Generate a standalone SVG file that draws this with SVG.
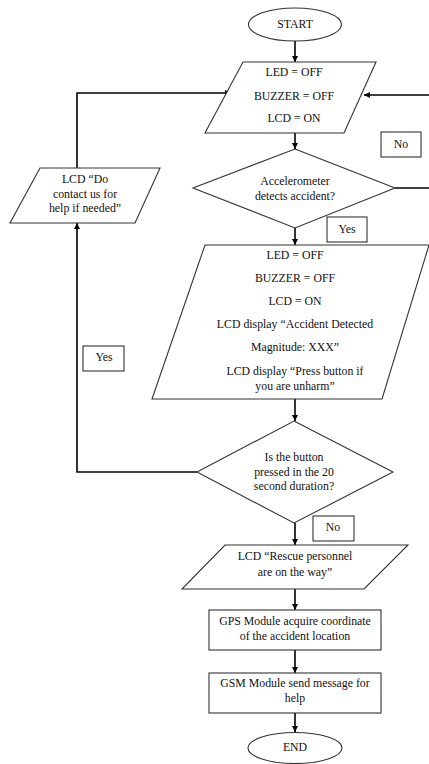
<svg xmlns="http://www.w3.org/2000/svg" width="429" height="764" viewBox="0 0 429 764">
<style>
.s{fill:#fff;stroke:#333;stroke-width:1.1}
.l{fill:#fff;stroke:#333;stroke-width:1.1}
.c{fill:none;stroke:#000;stroke-width:1.6}
text{font-family:"Liberation Serif","Times New Roman",serif;font-size:11.8px;fill:#111;text-anchor:middle;dominant-baseline:middle}
</style>
<defs>
<marker id="ah" viewBox="0 0 8 8" refX="8" refY="4" markerWidth="6" markerHeight="6" orient="auto" markerUnits="userSpaceOnUse">
<path d="M0,0 L8,4 L0,8 z" fill="#000"/>
</marker>
</defs>
<rect width="429" height="764" fill="#fff"/>
<g id="connectors">
<line class="c" x1="295" y1="41" x2="295" y2="62" marker-end="url(#ah)"/>
<line class="c" x1="295" y1="133" x2="295" y2="149" marker-end="url(#ah)"/>
<polyline class="c" points="395,188 429,188"/>
<line class="c" x1="429" y1="95" x2="364" y2="95" marker-end="url(#ah)"/>
<line class="c" x1="295" y1="228" x2="295" y2="245" marker-end="url(#ah)"/>
<line class="c" x1="295" y1="399" x2="295" y2="421" marker-end="url(#ah)"/>
<polyline class="c" points="197,472 77,472 77,223" marker-end="url(#ah)"/>
<polyline class="c" points="77,168 77,93 231,93" marker-end="url(#ah)"/>
<line class="c" x1="295" y1="523" x2="295" y2="545" marker-end="url(#ah)"/>
<line class="c" x1="295" y1="589" x2="295" y2="610" marker-end="url(#ah)"/>
<line class="c" x1="295" y1="650" x2="295" y2="673" marker-end="url(#ah)"/>
<line class="c" x1="295" y1="713" x2="295" y2="732" marker-end="url(#ah)"/>
</g>
<g id="start">
<ellipse class="s" cx="295" cy="24.5" rx="46.5" ry="16.5"/>
<text x="295" y="25">START</text>
</g>
<g id="init">
<polygon class="s" points="243,62 376,62 344,133 205,133"/>
<text x="294" y="73">LED = OFF</text>
<text x="294" y="97">BUZZER = OFF</text>
<text x="294" y="119">LCD = ON</text>
</g>
<g id="no1">
<rect class="l" x="381" y="132" width="40" height="25"/>
<text x="401" y="145">No</text>
</g>
<g id="accel">
<polygon class="s" points="295,149 395,188 295,228 193,188"/>
<text x="295" y="182">Accelerometer</text>
<text x="295" y="197">detects accident?</text>
</g>
<g id="yes1">
<rect class="l" x="327" y="217" width="40" height="25"/>
<text x="347" y="230">Yes</text>
</g>
<g id="detected">
<polygon class="s" points="205,245 429,245 382,399 152,399"/>
<text x="295" y="256">LED = OFF</text>
<text x="295" y="279">BUZZER = OFF</text>
<text x="295" y="302">LCD = ON</text>
<text x="295" y="325">LCD display “Accident Detected</text>
<text x="295" y="348">Magnitude: XXX”</text>
<text x="295" y="372">LCD display “Press button if</text>
<text x="295" y="387">you are unharm”</text>
</g>
<g id="button">
<polygon class="s" points="294,421 393,472 294,523 197,472"/>
<text x="294" y="458">Is the button</text>
<text x="294" y="473">pressed in the 20</text>
<text x="294" y="487">second duration?</text>
</g>
<g id="yes2">
<rect class="l" x="83" y="346" width="41" height="25"/>
<text x="104" y="358">Yes</text>
</g>
<g id="contact">
<polygon class="s" points="40,168 160,168 135,223 10,223"/>
<text x="85" y="180">LCD “Do</text>
<text x="85" y="195">contact us for</text>
<text x="85" y="209">help if needed”</text>
</g>
<g id="no2">
<rect class="l" x="313" y="516" width="41" height="25"/>
<text x="333" y="528">No</text>
</g>
<g id="rescue">
<polygon class="s" points="225,545 408,545 364,589 182,589"/>
<text x="295" y="557">LCD “Rescue personnel</text>
<text x="295" y="573">are on the way”</text>
</g>
<g id="gps">
<rect class="s" x="209" y="610" width="172" height="40"/>
<text x="295" y="622">GPS Module acquire coordinate</text>
<text x="295" y="637">of the accident location</text>
</g>
<g id="gsm">
<rect class="s" x="209" y="673" width="172" height="40"/>
<text x="295" y="684">GSM Module send message for</text>
<text x="295" y="699">help</text>
</g>
<g id="end">
<ellipse class="s" cx="295" cy="748" rx="47" ry="15.5"/>
<text x="295" y="748">END</text>
</g>
</svg>
